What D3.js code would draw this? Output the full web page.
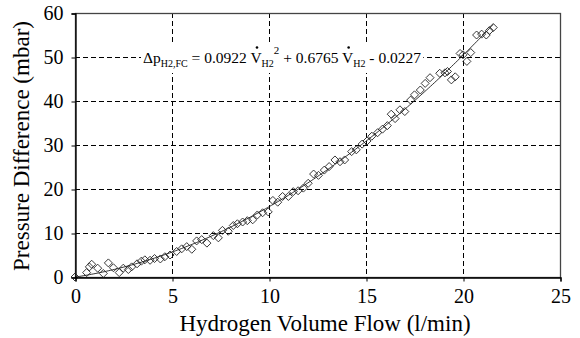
<!DOCTYPE html>
<html>
<head>
<meta charset="utf-8">
<script src="https://cdn.jsdelivr.net/npm/d3@7"></script>
<style>
  html, body { margin: 0; padding: 0; background: #fff; }
  svg { display: block; }
  svg text { font-family: "Liberation Serif", "Times New Roman", serif; }
</style>
</head>
<body>
<svg id="chart" width="580" height="338"></svg>
<script>
// Measured hydrogen volume flow (l/min) and pressure difference (mbar)
const flow = [0, 0.6, 0.74, 0.86, 1.17, 1.46, 1.72, 1.98, 2.28, 2.49, 2.75, 2.92, 3.2, 3.42, 3.6, 3.87,
  4.1, 4.4, 4.63, 4.9, 5.24, 5.5, 5.76, 6.02, 6.27, 6.53, 6.8, 7.13, 7.39, 7.6, 7.9, 8.16, 8.37, 8.64,
  8.88, 9.16, 9.4, 9.67, 9.96, 10.2, 10.45, 10.7, 11.0, 11.25, 11.5, 11.77, 12.02, 12.3, 12.55, 12.85,
  13.1, 13.4, 13.66, 13.9, 14.26, 14.5, 14.8, 15.05, 15.3, 15.6, 15.85, 16.1, 16.3, 16.5, 16.75, 17.0,
  17.3, 17.5, 17.8, 18.05, 18.3, 18.8, 19.07, 19.2, 19.4, 19.6, 19.85, 20.0, 20.2, 20.4, 20.7, 20.96,
  21.2, 21.36, 21.56];
const pressure = [0, 1.0, 2.3, 2.9, 2.0, 0.8, 3.2, 2.1, 1.0, 2.0, 1.7, 2.3, 3.0, 3.6, 3.9, 3.8,
  4.2, 4.1, 4.6, 5.0, 5.8, 6.4, 6.9, 6.3, 8.2, 8.5, 7.7, 9.4, 8.9, 10.6, 10.4, 11.7, 12.1, 12.5,
  12.8, 13.0, 14.1, 14.6, 14.8, 17.4, 17.0, 18.3, 18.3, 19.4, 19.6, 20.2, 21.3, 23.4, 23.1, 24.3,
  25.1, 26.6, 26.2, 26.6, 28.5, 28.9, 30.2, 30.9, 32.0, 32.8, 33.6, 34.4, 37.0, 36.0, 38.0, 37.6,
  40.2, 41.4, 42.5, 44.0, 45.3, 46.3, 46.4, 46.7, 44.8, 45.5, 50.8, 50.5, 49.0, 51.0, 55.0, 55.2,
  55.0, 56.0, 56.7];

// Quadratic fit coefficients
const fitCoef = [0.0922, 0.6765, -0.0227];
const fitRange = [0, 21.56];

const xTicks = [0, 5, 10, 15, 20, 25];
const yTicks = [0, 10, 20, 30, 40, 50, 60];

const FONT = "Liberation Serif";
const svg = d3.select("#chart");
const x = d3.scaleLinear().domain([0, 25]).range([75, 560]);
const y = d3.scaleLinear().domain([0, 60]).range([277, 13]);

// dashed grid
const grid = svg.append("g").attr("stroke", "#000").attr("stroke-width", 1).attr("stroke-dasharray", "5,3");
grid.selectAll("line.h").data(yTicks.slice(1, -1)).join("line")
  .attr("x1", x(0)).attr("x2", x(25)).attr("y1", d => y(d) + 0.5).attr("y2", d => y(d) + 0.5);
grid.selectAll("line.v").data(xTicks.slice(1, -1)).join("line")
  .attr("y1", y(60)).attr("y2", y(0)).attr("x1", d => x(d) + 0.5).attr("x2", d => x(d) + 0.5);

// plot frame
svg.append("rect").attr("x", x(0) + 0.5).attr("y", y(60) + 0.5)
  .attr("width", x(25) - x(0)).attr("height", y(0) - y(60))
  .attr("fill", "none").attr("stroke", "#444").attr("stroke-width", 1.3);

// axes
const xAxis = svg.append("g").attr("transform", `translate(0.5,${y(0) + 0.5})`)
  .call(d3.axisBottom(x).tickValues(xTicks).tickSize(4).tickPadding(7).tickFormat(d3.format("d")));
const yAxis = svg.append("g").attr("transform", `translate(${x(0) + 0.5},0.5)`)
  .call(d3.axisLeft(y).tickValues(yTicks).tickSize(4).tickPadding(8).tickFormat(d3.format("d")));
[xAxis, yAxis].forEach(a => {
  a.attr("font-family", FONT);
  a.select(".domain").attr("stroke", "#000").attr("stroke-width", 1.3);
  a.selectAll(".tick line").attr("stroke", "#000");
  a.selectAll("text").attr("font-family", FONT).attr("font-size", 20).attr("fill", "#000");
});

// fit curve
const fit = v => fitCoef[0] * v * v + fitCoef[1] * v + fitCoef[2];
const curvePts = d3.range(0, 201).map(i => fitRange[0] + (fitRange[1] - fitRange[0]) * i / 200);
svg.append("path")
  .attr("d", d3.line().x(v => x(v)).y(v => y(Math.max(0, fit(v))))(curvePts))
  .attr("fill", "none").attr("stroke", "#000").attr("stroke-width", 0.8);

// data markers (open diamonds)
svg.append("g").selectAll("path").data(flow.map((f, i) => [f, pressure[i]])).join("path")
  .attr("transform", d => `translate(${x(d[0])},${y(d[1])})`)
  .attr("d", "M0,-4L4,0L0,4L-4,0Z")
  .attr("fill", "none").attr("stroke", "#222").attr("stroke-width", 0.9);

// fit equation label
const eqG = svg.append("g");
const eqBg = eqG.append("rect").attr("fill", "#fff");
const eq = eqG.append("text").attr("x", 143).attr("y", 63).attr("font-family", FONT)
  .attr("font-size", 15.5).attr("fill", "#000");
const parts = [
  ["Δp", 0, null], ["H2,FC", 4, 10], [" = 0.0922 ", 0, null], ["V", 0, null, "dot"], ["H2", 4, 10],
  ["2", -9, 11], [" + 0.6765 ", 0, null], ["V", 0, null, "dot"], ["H2", 4, 10], [" - 0.0227", 0, null]
];
let shift = 0;
const dotIdx = [];
let charCount = 0;
parts.forEach(p => {
  const t = eq.append("tspan").text(p[0]).attr("dy", p[1] - shift);
  if (p[2]) t.attr("font-size", p[2]);
  shift = p[1];
  if (p[3] === "dot") dotIdx.push(charCount);
  charCount += p[0].length;
});
const node = eq.node();
const bb = node.getBBox();
eqBg.attr("x", bb.x - 2).attr("y", 45).attr("width", bb.width + 4).attr("height", 28);
dotIdx.forEach(i => {
  const e = node.getExtentOfChar(i);
  eqG.append("circle").attr("cx", e.x + e.width / 2 + 1).attr("cy", 47.5).attr("r", 1.3).attr("fill", "#000");
});

// axis titles
svg.append("text").attr("x", 325).attr("y", 331).attr("text-anchor", "middle").attr("font-family", FONT)
  .attr("font-size", 23).attr("fill", "#000").text("Hydrogen Volume Flow (l/min)");
svg.append("text").attr("transform", "translate(29,146) rotate(-90)").attr("text-anchor", "middle")
  .attr("font-family", FONT).attr("font-size", 23).attr("fill", "#000").text("Pressure Difference (mbar)");
</script>
</body>
</html>
